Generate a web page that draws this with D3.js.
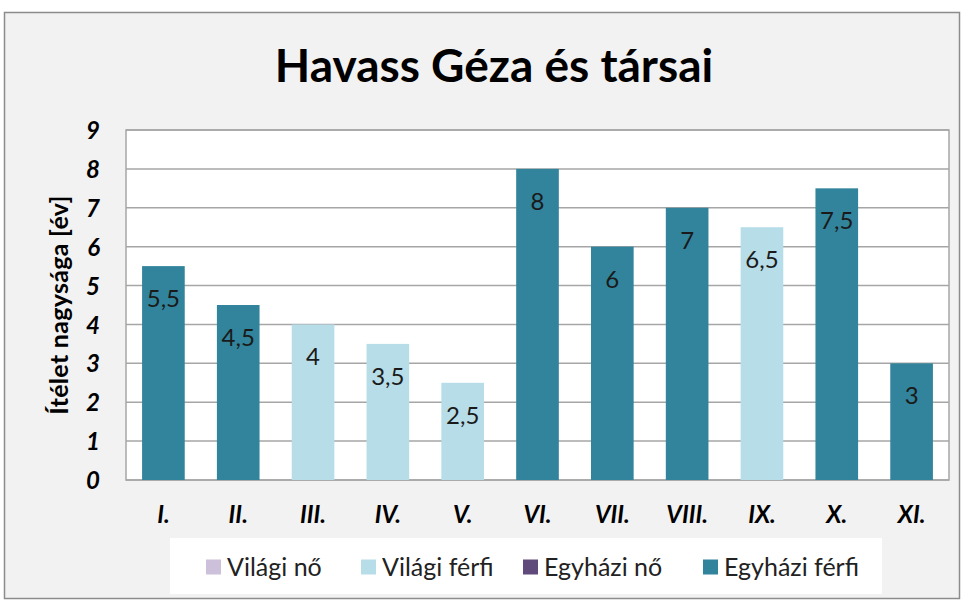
<!DOCTYPE html>
<html>
<head>
<meta charset="utf-8">
<script src="https://d3js.org/d3.v7.min.js"></script>
<style>
  body { margin: 0; background: #fff; }
  text { font-family: Lato, "Open Sans", sans-serif; }
</style>
</head>
<body>
<div id="chart_holder"></div>
<script>
// data
let categories = ["I.", "II.", "III.", "IV.", "V.", "VI.", "VII.", "VIII.", "IX.", "X.", "XI."]
let values = [5.5, 4.5, 4, 3.5, 2.5, 8, 6, 7, 6.5, 7.5, 3]
let groups = ["Egyházi férfi", "Egyházi férfi", "Világi férfi", "Világi férfi", "Világi férfi",
              "Egyházi férfi", "Egyházi férfi", "Egyházi férfi", "Világi férfi", "Egyházi férfi", "Egyházi férfi"]
let legendNames = ["Világi nő", "Világi férfi", "Egyházi nő", "Egyházi férfi"]
let legendColors = ["#ccc0da", "#b7dde8", "#604a7b", "#31849b"]
let yTicks = [0, 1, 2, 3, 4, 5, 6, 7, 8, 9]

let width = 964, height = 603
let plot = {left: 126, right: 949, top: 130, bottom: 480}

let svg = d3.select("#chart_holder").append("svg")
    .attr("width", width)
    .attr("height", height)

// frame
svg.append("rect")
    .attr("x", 4.5).attr("y", 12.5)
    .attr("width", 955).attr("height", 586)
    .attr("fill", "#f2f2f2")
    .attr("stroke", "#8c8c8c")
    .attr("stroke-width", 1.5)

svg.append("text")
    .attr("x", 494).attr("y", 82)
    .attr("text-anchor", "middle")
    .attr("font-size", 46)
    .attr("font-weight", "bold")
    .text("Havass Géza és társai")

let color = d3.scaleOrdinal().domain(legendNames).range(legendColors)

let x = d3.scaleBand()
    .domain(categories)
    .range([plot.left, plot.right])
    .paddingInner(0.43)
    .paddingOuter(0.215)

let y = d3.scaleLinear()
    .domain([0, 9])
    .range([plot.bottom, plot.top])

svg.append("rect")
    .attr("x", plot.left).attr("y", plot.top)
    .attr("width", plot.right - plot.left).attr("height", plot.bottom - plot.top)
    .attr("fill", "#fff")
    .attr("stroke", "#a6a6a6")
    .attr("stroke-width", 1.5)

// grid
svg.append("g")
    .selectAll("line")
    .data(yTicks)
    .join("line")
    .attr("x1", plot.left).attr("x2", plot.right)
    .attr("y1", d => y(d)).attr("y2", d => y(d))
    .attr("stroke", "#a6a6a6")
    .attr("stroke-width", 1.5)

// y axis labels
let yAxis = svg.append("g")
    .attr("transform", `translate(${plot.left},0)`)
    .call(d3.axisLeft(y).tickValues(yTicks).tickSize(0).tickPadding(26))
yAxis.select(".domain").remove()
yAxis.selectAll("text")
    .attr("font-size", 24)
    .attr("font-weight", "bold")
    .attr("font-style", "italic")
    .attr("fill", "#000")
    .attr("dy", "0.36em")

svg.append("text")
    .attr("transform", `translate(68, 305) rotate(-90)`)
    .attr("text-anchor", "middle")
    .attr("font-size", 25)
    .attr("font-weight", "bold")
    .attr("letter-spacing", 0.3)
    .text("Ítélet nagysága [év]")

// x axis labels
let xAxis = svg.append("g")
    .attr("transform", `translate(0,${plot.bottom})`)
    .call(d3.axisBottom(x).tickSize(0).tickPadding(26))
xAxis.select(".domain").remove()
xAxis.selectAll("text")
    .attr("font-size", 24)
    .attr("font-weight", "bold")
    .attr("font-style", "italic")
    .attr("fill", "#000")

// bars
svg.append("g")
    .selectAll("rect")
    .data(categories)
    .join("rect")
    .attr("x", d => x(d))
    .attr("y", (d, i) => y(values[i]))
    .attr("width", x.bandwidth())
    .attr("height", (d, i) => y(0) - y(values[i]))
    .attr("fill", (d, i) => color(groups[i]))

svg.append("g")
    .selectAll("text")
    .data(categories)
    .join("text")
    .attr("x", d => x(d) + x.bandwidth() / 2)
    .attr("y", (d, i) => y(values[i]) + 41)
    .attr("text-anchor", "middle")
    .attr("font-family", "'Open Sans', sans-serif")
    .attr("font-size", 24)
    .attr("fill", "#1a1a1a")
    .text((d, i) => String(values[i]).replace(".", ","))

// legend
svg.append("rect")
    .attr("x", 170).attr("y", 538)
    .attr("width", 712).attr("height", 56)
    .attr("fill", "#fff")
let legendX = [206, 361, 523, 703]
let items = svg.append("g").selectAll("g")
    .data(legendNames)
    .join("g")
    .attr("transform", (d, i) => `translate(${legendX[i]}, 567)`)
items.append("rect")
    .attr("x", 0).attr("y", -7.5)
    .attr("width", 15).attr("height", 15)
    .attr("fill", d => color(d))
items.append("text")
    .attr("x", 21).attr("y", 0)
    .attr("dy", "0.36em")
    .attr("font-size", 25)
    .attr("fill", "#222")
    .text(d => d)
</script>
</body>
</html>
